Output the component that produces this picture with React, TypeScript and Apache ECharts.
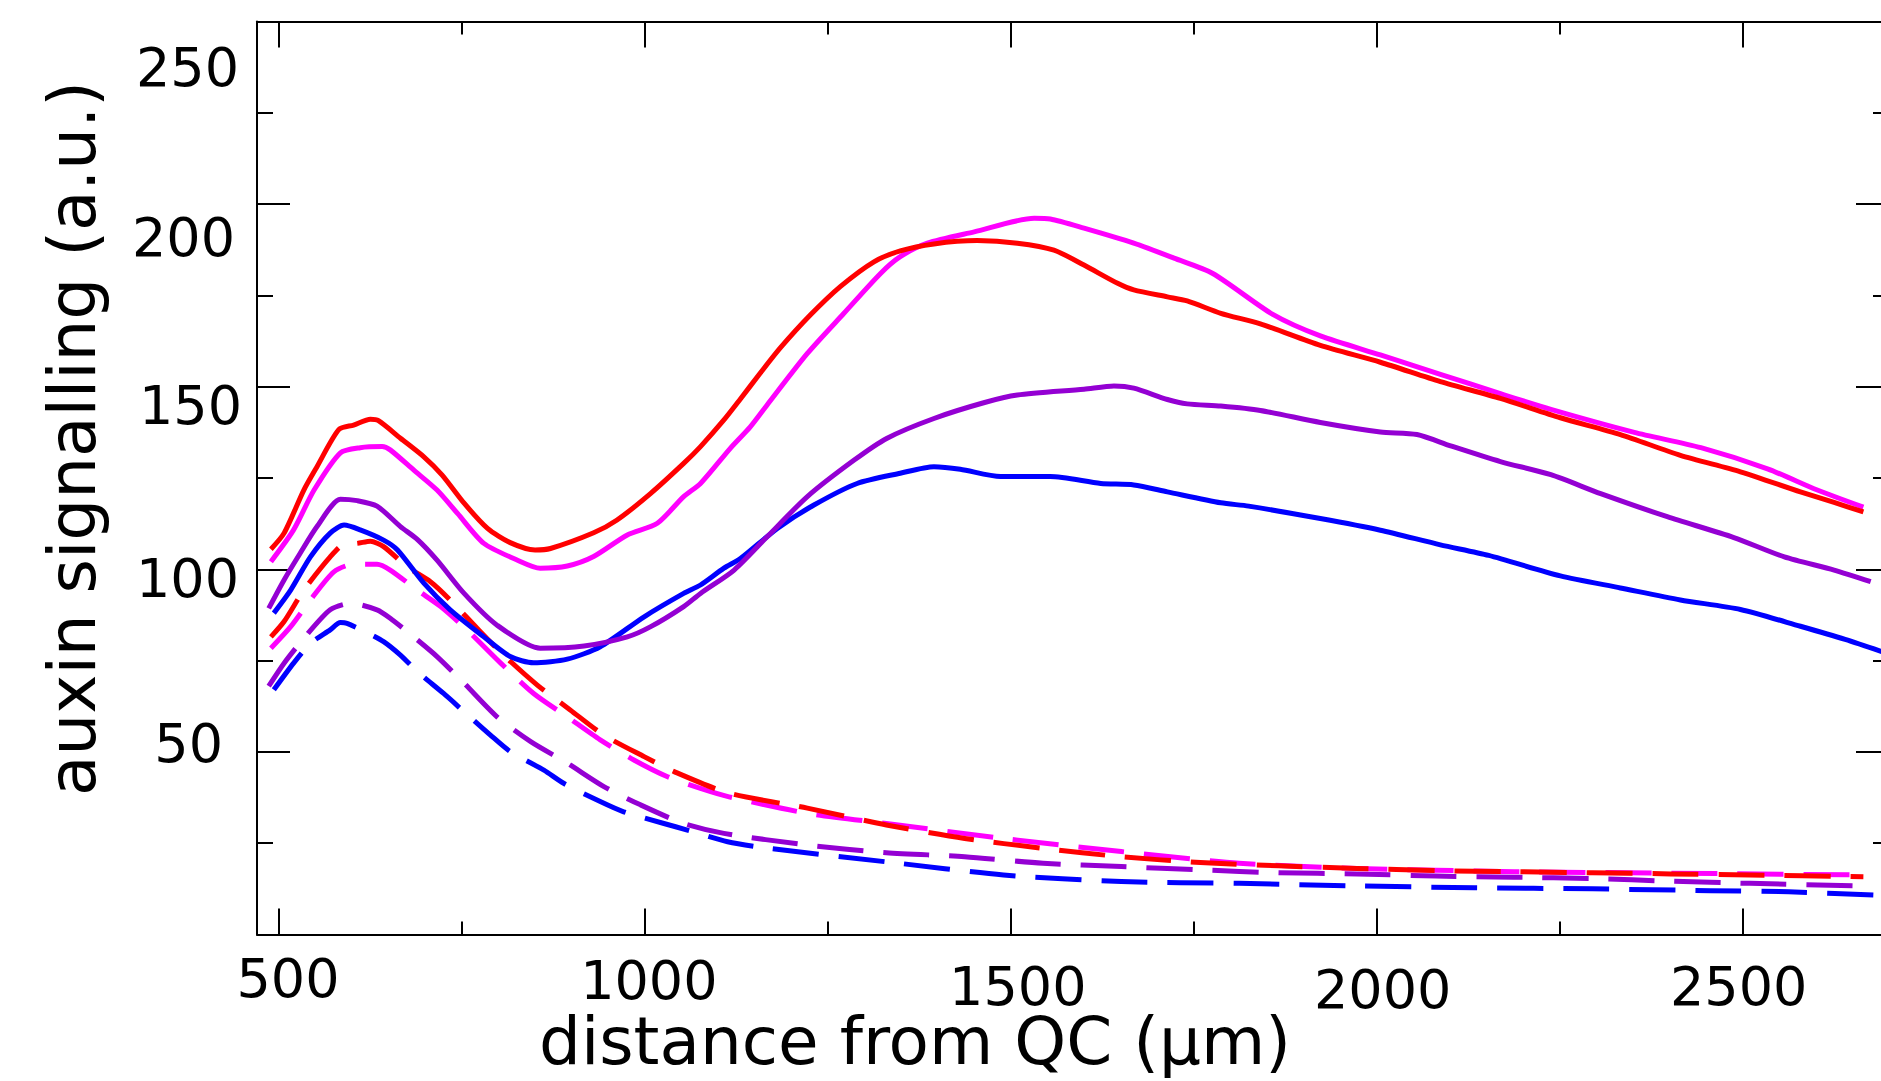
import React, { useEffect, useRef } from "react";
import * as echarts from "echarts";

// ---------------- data ----------------
const xMajorTicks = [500, 1000, 1500, 2000, 2500];
const xMinorTicks = [750, 1250, 1750, 2250];
const yTickLabels = [50, 100, 150, 200, 250];

const redSolid: [number, number][] = [
  [489, 105.5], [507, 109.9], [534, 121.7], [552, 128.1], [582, 138.3], [602, 139.5], [625, 141.1], [636, 140.7],
  [666, 135.9], [698, 130.8], [723, 125.8], [753, 118.1], [785, 111.2], [816, 107.3], [850, 105.3], [871, 105.7],
  [930, 110.0], [962, 113.5], [1008, 120.8], [1053, 129.0], [1076, 133.6], [1108, 140.9], [1130, 146.5],
  [1158, 153.8], [1185, 160.6], [1226, 169.6], [1267, 177.4], [1313, 184.2], [1349, 187.2], [1395, 189.1],
  [1454, 190.0], [1509, 189.3], [1559, 187.4], [1600, 183.3], [1646, 178.3], [1668, 176.5], [1714, 174.6],
  [1741, 173.5], [1787, 170.1], [1841, 167.2], [1923, 161.3], [2005, 156.7], [2087, 151.4], [2169, 146.8],
  [2251, 141.5], [2333, 136.9], [2415, 131.2], [2497, 126.7], [2579, 121.2], [2625, 118.3], [2665, 115.7],
];

const magentaSolid: [number, number][] = [
  [489, 102.1], [520, 110.8], [548, 121.7], [584, 131.9], [611, 133.3], [641, 133.6], [652, 132.7], [684, 127.2],
  [716, 121.7], [744, 115.3], [780, 107.1], [826, 102.5], [857, 100.3], [894, 100.9], [930, 103.5], [976, 109.4],
  [1017, 112.6], [1053, 119.9], [1076, 123.5], [1117, 133.2], [1144, 139.0], [1167, 145.0], [1222, 159.1],
  [1272, 170.1], [1322, 181.0], [1349, 185.6], [1386, 189.3], [1450, 192.4], [1532, 196.1], [1554, 195.9],
  [1600, 193.4], [1668, 189.3], [1723, 185.2], [1776, 181.0], [1858, 169.8], [1923, 163.9], [2005, 158.7],
  [2087, 153.4], [2169, 148.1], [2238, 143.8], [2352, 137.5], [2443, 133.3], [2534, 127.5], [2602, 121.7],
  [2665, 117.0],
];

const purpleSolid: [number, number][] = [
  [486, 89.3], [507, 97.1], [529, 104.4], [552, 111.7], [584, 119.2], [607, 118.8], [634, 117.3], [666, 111.7],
  [689, 108.2], [716, 102.5], [753, 93.4], [798, 84.7], [857, 78.4], [917, 79.0], [976, 81.5], [1008, 84.3],
  [1053, 89.8], [1076, 93.4], [1122, 99.8], [1167, 108.9], [1222, 119.9], [1286, 129.9], [1331, 135.9],
  [1395, 141.3], [1463, 145.6], [1509, 147.7], [1600, 149.3], [1641, 150.2], [1668, 149.6], [1714, 146.5],
  [1741, 145.3], [1787, 144.7], [1841, 143.5], [1923, 140.2], [2005, 137.6], [2055, 136.9], [2101, 133.8],
  [2169, 129.5], [2238, 125.9], [2306, 120.7], [2397, 114.4], [2488, 108.7], [2557, 103.4], [2625, 99.8],
  [2675, 96.6],
];

const blueSolid: [number, number][] = [
  [493, 88.0], [516, 94.3], [543, 103.4], [570, 109.9], [589, 112.1], [611, 110.8], [643, 108.0], [662, 105.3],
  [698, 96.2], [734, 88.9], [780, 81.5], [816, 76.1], [848, 74.4], [894, 75.4], [939, 78.8], [999, 87.0],
  [1053, 93.4], [1076, 95.7], [1108, 100.3], [1131, 103.0], [1181, 111.2], [1231, 117.6], [1290, 123.5],
  [1349, 126.3], [1395, 128.1], [1431, 127.4], [1486, 125.4], [1554, 125.4], [1623, 123.5], [1668, 123.1],
  [1714, 121.2], [1787, 118.2], [1825, 117.3], [1923, 113.9], [2005, 110.7], [2087, 106.7], [2153, 103.8],
  [2251, 98.2], [2333, 94.9], [2415, 91.6], [2497, 89.0], [2579, 84.4], [2640, 80.8], [2700, 76.8],
];

const redDashed: [number, number][] = [
  [489, 81.5], [507, 85.7], [534, 94.3], [570, 103.4], [589, 106.9], [607, 107.1], [625, 107.7], [643, 106.2],
  [675, 100.7], [707, 96.6], [734, 91.6], [771, 83.8], [807, 76.5], [853, 68.3], [898, 61.5], [944, 54.6],
  [999, 48.7], [1040, 44.6], [1115, 38.7], [1222, 34.6], [1330, 30.0], [1437, 26.3], [1544, 23.6],
  [1651, 21.3], [1759, 19.7], [1866, 18.8], [1973, 18.1], [2081, 17.5], [2188, 17.2], [2295, 16.9],
  [2402, 16.6], [2510, 16.3], [2665, 15.8],
];

const magentaDashed: [number, number][] = [
  [489, 78.4], [516, 84.3], [543, 91.6], [575, 99.3], [602, 101.4], [634, 101.4], [652, 99.8], [689, 94.3],
  [721, 89.8], [757, 83.4], [803, 74.3], [848, 66.0], [894, 59.6], [939, 53.3], [985, 47.8], [1031, 43.2],
  [1076, 40.0], [1115, 37.7], [1222, 33.2], [1330, 30.4], [1490, 26.3], [1651, 22.7], [1812, 19.5],
  [1973, 18.1], [2188, 17.2], [2402, 16.8], [2665, 16.3],
];

const purpleDashed: [number, number][] = [
  [486, 68.0], [507, 74.3], [534, 81.1], [570, 88.9], [598, 90.7], [634, 88.9], [652, 86.6], [684, 81.5],
  [716, 76.1], [753, 68.8], [798, 59.6], [844, 52.8], [894, 46.9], [944, 40.5], [994, 35.5], [1053, 30.4],
  [1108, 27.7], [1222, 24.5], [1330, 22.4], [1437, 21.3], [1544, 19.5], [1651, 18.6], [1759, 17.7],
  [1866, 16.9], [1973, 16.6], [2081, 16.0], [2188, 15.7], [2295, 15.3], [2402, 14.6], [2510, 14.0],
  [2665, 13.3],
];

const blueDashed: [number, number][] = [
  [493, 67.0], [520, 74.3], [543, 79.7], [570, 83.4], [584, 85.4], [593, 85.2], [621, 82.6], [643, 80.2],
  [666, 76.5], [689, 72.0], [725, 66.0], [753, 61.0], [789, 54.6], [816, 50.1], [862, 45.0], [889, 41.4],
  [939, 36.4], [971, 33.6], [1026, 30.4], [1058, 28.6], [1113, 25.4], [1169, 23.6], [1330, 19.9],
  [1490, 16.3], [1651, 14.5], [1812, 14.0], [1973, 13.3], [2134, 12.8], [2295, 12.5], [2456, 12.0],
  [2563, 11.7], [2700, 10.6],
];

// ---------------- styles ----------------
const FONT = "DejaVu Sans";
const RED = "#ff0000";
const MAGENTA = "#ff00ff";
const PURPLE = "#9400d3";
const BLUE = "#0000ff";

// per-label text offsets [top, right, bottom, left] (reference labels are jittered)
const yLabelPad: Record<number, number[]> = {
  250: [91, 3, 0, 0],
  200: [66, 7, 0, 0],
  150: [38, 0, 0, 0],
  100: [19, 3, 0, 0],
  50: [0, 19, 16, 0],
};
const xLabelPad: Record<number, number[]> = {
  500: [0, 0, 0, 18],
  1000: [2, 0, 0, 8],
  1500: [8, 0, 0, 14],
  2000: [11, 0, 0, 12],
  2500: [8, 8, 0, 0],
};

const labelText = { fontFamily: FONT, fontSize: 54, color: "#000" };

function buildRich(pads: Record<number, number[]>) {
  const rich: Record<string, any> = {};
  Object.keys(pads).forEach((k) => {
    rich["l" + k] = { ...labelText, padding: pads[Number(k)] };
  });
  return rich;
}

const X_MIN = 470;
const X_MAX = 2700;

const tickLine = { color: "#000", width: 2 };

function xAxisDef(position: "top" | "bottom", ticks: number[], len: number, withLabels: boolean, showLine: boolean) {
  const def: any = {
    type: "value",
    position,
    min: X_MIN,
    max: X_MAX,
    splitLine: { show: false },
    axisLine: { show: showLine, onZero: false, lineStyle: { color: "#000", width: 2 } },
    axisTick: { show: true, inside: true, length: len, customValues: ticks, lineStyle: tickLine },
    axisLabel: { show: false },
  };
  if (withLabels) {
    def.axisLabel = {
      show: true,
      customValues: xMajorTicks,
      margin: 17,
      formatter: (v: number) => `{l${v}|${v}}`,
      rich: buildRich(xLabelPad),
      ...labelText,
    };
    def.name = "distance from QC (µm)";
    def.nameLocation = "middle";
    def.nameGap = 74;
    def.nameMoveOverlap = false;
    def.nameTextStyle = { fontFamily: FONT, fontSize: 66, color: "#000", padding: [0, 316, 0, 0] };
  }
  return def;
}

function yAxisDef(position: "left" | "right", withLabels: boolean) {
  const def: any = {
    type: "value",
    position,
    min: 0,
    max: 250,
    interval: 50,
    splitLine: { show: false },
    axisLine: { show: true, onZero: false, lineStyle: { color: "#000", width: 2 } },
    axisTick: { show: true, inside: true, length: 33, lineStyle: tickLine },
    minorTick: { show: true, splitNumber: 2, length: 16, lineStyle: tickLine },
    minorSplitLine: { show: false },
    axisLabel: { show: false },
  };
  if (withLabels) {
    def.axisLabel = {
      show: true,
      customValues: yTickLabels,
      margin: 15,
      formatter: (v: number) => `{l${v}|${v}}`,
      rich: buildRich(yLabelPad),
      ...labelText,
    };
    def.name = "auxin signalling (a.u.)";
    def.nameLocation = "middle";
    def.nameGap = 152;
    def.nameRotate = 90;
    def.nameTextStyle = { fontFamily: FONT, fontSize: 66, color: "#000", padding: [0, 0, 0, 79] };
  }
  return def;
}

function lineSeries(name: string, data: [number, number][], color: string, dashed: boolean) {
  return {
    name,
    type: "line",
    data,
    xAxisIndex: 0,
    yAxisIndex: 0,
    showSymbol: false,
    symbol: "none",
    smooth: 0.25,
    clip: true,
    lineStyle: {
      color,
      width: 5,
      type: dashed ? [46, 20] : "solid",
      cap: "butt",
      join: "round",
    },
    itemStyle: { color },
    emphasis: { disabled: true },
  };
}

export default function App() {
  const ref = useRef<HTMLDivElement>(null);

  useEffect(() => {
    if (!ref.current) return;
    const chart = echarts.init(ref.current, undefined, { renderer: "svg" });
    chart.setOption({
      animation: false,
      backgroundColor: "#ffffff",
      grid: {
        left: 257,
        top: 21.5,
        width: 1632,
        height: 913,
        containLabel: false,
        outerBoundsMode: "none",
      },
      xAxis: [
        xAxisDef("bottom", xMajorTicks, 26, true, true),
        xAxisDef("bottom", xMinorTicks, 13, false, false),
        xAxisDef("top", xMajorTicks, 26, false, true),
        xAxisDef("top", xMinorTicks, 13, false, false),
      ],
      yAxis: [yAxisDef("left", true), yAxisDef("right", false)],
      series: [
        lineSeries("blue dashed", blueDashed, BLUE, true),
        lineSeries("purple dashed", purpleDashed, PURPLE, true),
        lineSeries("magenta dashed", magentaDashed, MAGENTA, true),
        lineSeries("red dashed", redDashed, RED, true),
        lineSeries("blue", blueSolid, BLUE, false),
        lineSeries("purple", purpleSolid, PURPLE, false),
        lineSeries("magenta", magentaSolid, MAGENTA, false),
        lineSeries("red", redSolid, RED, false),
      ],
    });
    return () => chart.dispose();
  }, []);

  return (
    <div
      ref={ref}
      style={{ position: "fixed", left: 0, top: 0, width: 1881, height: 1081, background: "#fff" }}
    />
  );
}
